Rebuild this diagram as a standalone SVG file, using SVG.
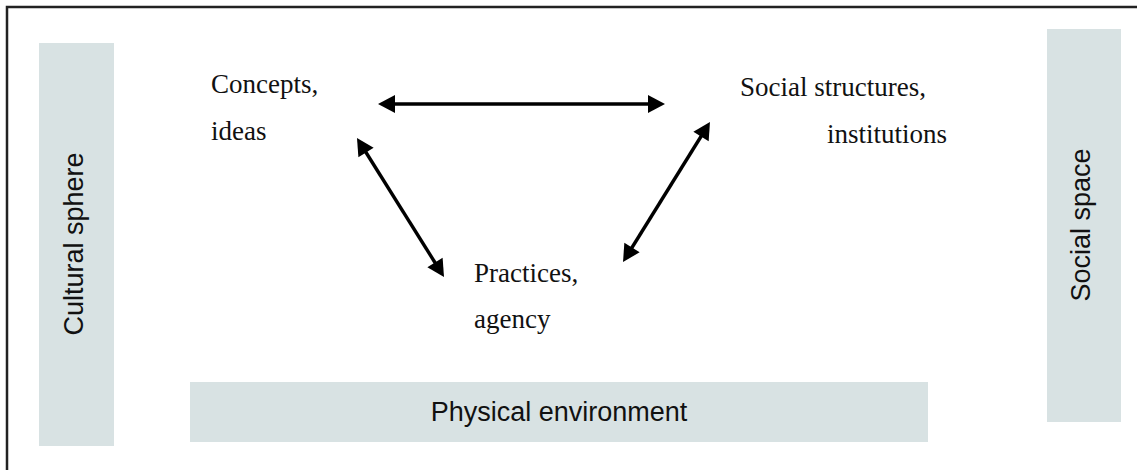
<svg xmlns="http://www.w3.org/2000/svg" width="1137" height="470" viewBox="0 0 1137 470">
<style>
.band{fill:#d8e2e3}
.sans{font-family:"Liberation Sans",Arial,sans-serif;font-size:27px;fill:#111}
.serif{font-family:"Liberation Serif","Times New Roman",serif;font-size:27px;fill:#111}
.arr{stroke:#000;stroke-width:3.4;fill:none;marker-start:url(#ah);marker-end:url(#ah)}
</style>
<defs>
<marker id="ah" markerUnits="userSpaceOnUse" markerWidth="30" markerHeight="30" refX="0" refY="0" viewBox="-10 -15 30 30" orient="auto-start-reverse" overflow="visible">
<path d="M10,0 L-7,-9 L-7,9 Z" fill="#000"/>
</marker>
</defs>
<rect width="1137" height="470" fill="#fff"/>
<path d="M7,470 V7 H1137" fill="none" stroke="#222" stroke-width="2.5"/>
<g id="cultural-sphere">
<rect class="band" x="39" y="43" width="75" height="403"/>
<text class="sans" x="83" y="244" text-anchor="middle" transform="rotate(-90 83 244)">Cultural sphere</text>
</g>
<g id="social-space">
<rect class="band" x="1047" y="29" width="74" height="393"/>
<text class="sans" x="1090" y="225" text-anchor="middle" transform="rotate(-90 1090 225)">Social space</text>
</g>
<g id="physical-environment">
<rect class="band" x="190" y="382" width="738" height="60"/>
<text class="sans" x="559" y="421" text-anchor="middle">Physical environment</text>
</g>
<g id="concepts">
<text class="serif" x="211" y="93">Concepts,</text>
<text class="serif" x="211" y="140">ideas</text>
</g>
<g id="social-structures">
<text class="serif" x="740" y="96">Social structures,</text>
<text class="serif" x="827" y="143">institutions</text>
</g>
<g id="practices">
<text class="serif" x="474" y="282">Practices,</text>
<text class="serif" x="474" y="328">agency</text>
</g>
<g id="connectors">
<line class="arr" x1="388" y1="104" x2="655" y2="104"/>
<line class="arr" x1="362.3" y1="146.5" x2="438.7" y2="268.5"/>
<line class="arr" x1="704.7" y1="130.5" x2="628.3" y2="253.5"/>
</g>
</svg>
